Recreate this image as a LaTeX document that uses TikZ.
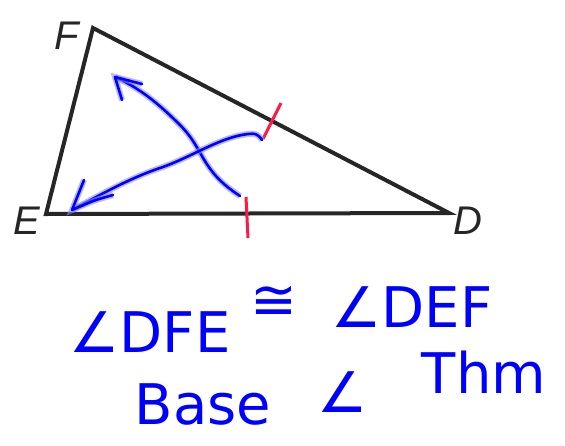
\documentclass[tikz,border=0pt]{standalone}
\usepackage{fontspec}
\setmainfont{DejaVu Sans}
\newfontfamily\labfont{Liberation Sans}
\begin{document}
\begin{tikzpicture}[x=1pt,y=-1pt,
  tri/.style={line width=4pt,black!85,line join=miter},
  tick/.style={line width=3pt,red!80!magenta!90!white,line cap=butt},
  ink/.style={line width=2.6pt,blue,line cap=round,line join=round,
     preaction={draw,line width=6pt,blue!45,opacity=0.6}},
  lab/.style={font=\labfont\itshape\fontsize{40}{40}\selectfont,text=black!85,inner sep=0pt},
  hand/.style={font=\fontsize{56}{56}\selectfont,text=blue,inner sep=0pt}]
\useasboundingbox (0,0) rectangle (565,445);
% triangle
\coordinate (F) at (93,28);
\coordinate (E) at (46,214);
\coordinate (D) at (449,213);
\draw[tri] (F) -- (E) -- (D) -- cycle;
\node[lab] (lF) at (67,36) {F};
\node[lab] (lE) at (27,221) {E};
\node[lab] (lD) at (468,221) {D};
% ticks
\coordinate (t1a) at (281,103);
\coordinate (t1b) at (263,139);
\coordinate (t2a) at (246,197);
\coordinate (t2b) at (248,238);
\draw[tick] (t1a) -- (t1b);
\draw[tick] (t2a) -- (t2b);
% blue arrows
\coordinate (a1s) at (240,196);
\coordinate (a1t) at (115,77);
\draw[ink] (a1s) .. controls (200,170) and (205,150) .. (180,125)
  .. controls (160,105) and (140,88) .. (a1t);
\draw[ink] (122,100) -- (a1t) -- (142,84);
\coordinate (a2s) at (262,140);
\coordinate (a2t) at (72,210);
\draw[ink] (a2s) .. controls (258,134) and (255,133) .. (248,134)
  .. controls (220,137) and (190,158) .. (160,168)
  .. controls (130,178) and (100,195) .. (a2t);
\draw[ink] (84,180) .. controls (78,195) .. (a2t) .. controls (95,200) .. (113,195);
% handwritten text
\node[hand] (w1) at (150,332) {∠DFE};
\node[hand] (w2) at (274,303) {≅};
\node[hand] (w3) at (412,307) {∠DEF};
\node[hand] (w4) at (203,404) {Base};
\node[hand] (w5) at (343,392) {∠};
\node[hand] (w6) at (484,372) {Thm};
\end{tikzpicture}
\end{document}
